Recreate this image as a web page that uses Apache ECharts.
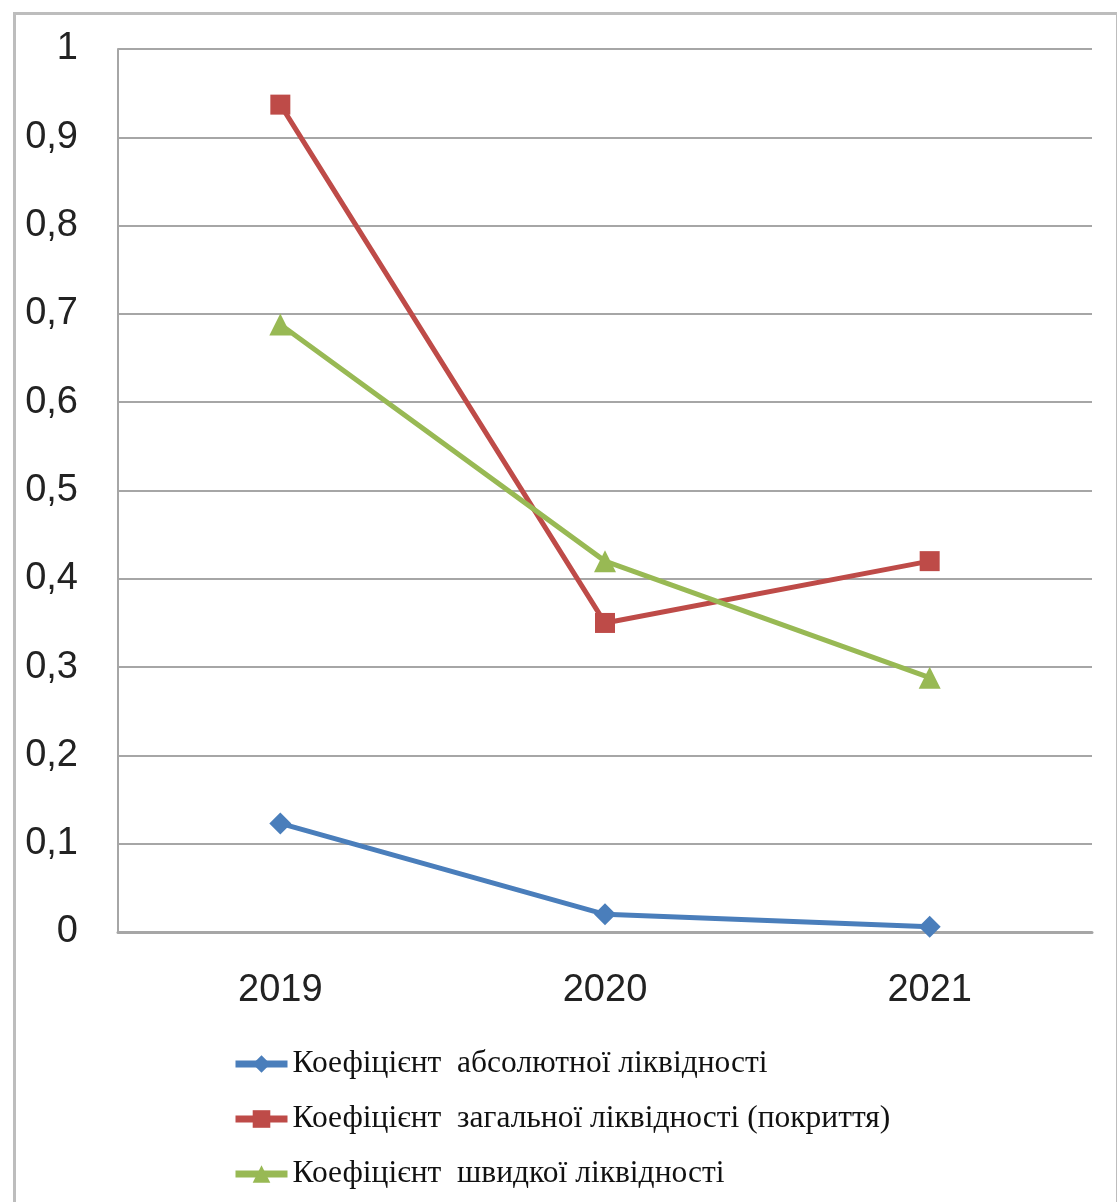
<!DOCTYPE html>
<html><head><meta charset="utf-8">
<script src="https://cdn.jsdelivr.net/npm/echarts@6/dist/echarts.min.js"></script>
<style>html,body{margin:0;padding:0;background:#fff}#c{width:1117px;height:1202px}</style>
</head><body><div id="c"></div>
<script>
const categories = ['2019', '2020', '2021'];
const absoluteLiquidity = [0.123, 0.02, 0.006];
const generalLiquidity = [0.937, 0.35, 0.42];
const quickLiquidity = [0.688, 0.42, 0.288];
const seriesNames = [
  'Коефіцієнт  абсолютної ліквідності',
  'Коефіцієнт  загальної ліквідності (покриття)',
  'Коефіцієнт  швидкої ліквідності'
];
const chart = echarts.init(document.getElementById('c'), null, {renderer: 'canvas'});
function mk(name, data, color, symbol, size) {
  return {
    name, type: 'line', data, symbol, symbolSize: size,
    lineStyle: {color, width: 5},
    itemStyle: {color},
    animation: false
  };
}
chart.setOption({
  backgroundColor: '#fff',
  graphic: [{
    type: 'rect', left: 12, top: 11,
    shape: {width: 1103, height: 1200},
    style: {fill: 'none', stroke: '#bdbdbd', lineWidth: 3},
    silent: true
  }],
  grid: {left: 118, right: 25, top: 49, bottom: 270},
  xAxis: {
    type: 'category', data: categories, boundaryGap: true,
    axisLine: {lineStyle: {color: '#a6a6a6', width: 3}},
    axisTick: {show: false},
    axisLabel: {fontSize: 38, color: '#222', margin: 40, fontFamily: 'Liberation Sans, sans-serif'}
  },
  yAxis: {
    type: 'value', min: 0, max: 1, interval: 0.1,
    axisLine: {show: true, lineStyle: {color: '#a6a6a6', width: 2}},
    axisTick: {show: false},
    splitLine: {lineStyle: {color: '#a6a6a6', width: 2}},
    axisLabel: {
      fontSize: 38, color: '#222', margin: 40,
      fontFamily: 'Liberation Sans, sans-serif',
      formatter: v => String(Math.round(v * 10) / 10).replace('.', ',')
    }
  },
  legend: {
    orient: 'vertical', left: 227, top: 1043, itemGap: 23,
    itemWidth: 52, itemHeight: 22,
    lineStyle: {width: 7},
    textStyle: {fontSize: 31.5, color: '#111', fontFamily: 'Liberation Serif, serif'},
    data: seriesNames
  },
  series: [
    mk(seriesNames[0], absoluteLiquidity, '#4a7ebb', 'diamond', 22),
    mk(seriesNames[1], generalLiquidity, '#be4b48', 'rect', 20),
    mk(seriesNames[2], quickLiquidity, '#98b954', 'triangle', 22)
  ]
});
</script></body></html>
